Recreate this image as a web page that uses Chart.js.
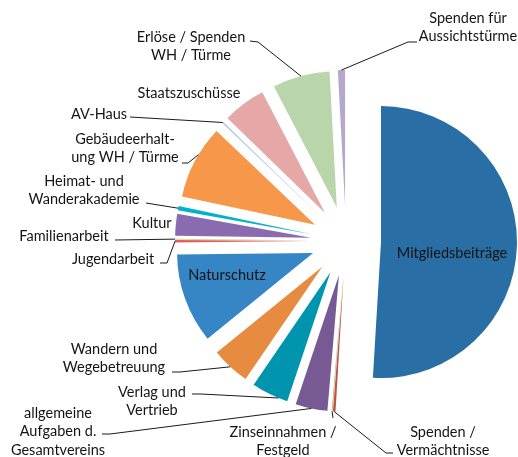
<!DOCTYPE html>
<html>
<head>
<meta charset="utf-8">
<script src="https://cdn.jsdelivr.net/npm/chart.js@4"></script>
<style>
  html, body { margin: 0; padding: 0; background: #fff; }
  #wrap { width: 518px; height: 457px; }
</style>
</head>
<body>
<div id="wrap"><canvas id="chart" width="518" height="457"></canvas></div>
<script>
// Income breakdown (share in %)
const categories = [
    'Mitgliedsbeiträge',
    'Spenden / Vermächtnisse',
    'Zinseinnahmen / Festgeld',
    'allgemeine Aufgaben d. Gesamtvereins',
    'Verlag und Vertrieb',
    'Wandern und Wegebetreuung',
    'Naturschutz',
    'Jugendarbeit',
    'Familienarbeit',
    'Kultur',
    'Heimat- und Wanderakademie',
    'Gebäudeerhaltung WH / Türme',
    'AV-Haus',
    'Staatszuschüsse',
    'Erlöse / Spenden WH / Türme',
    'Spenden für Aussichtstürme'
];
const shares = [51.0, 0.3, 0.1, 3.8, 4.4, 4.6, 10.7, 0.3, 0.1, 2.6, 0.5, 8.8, 0.15, 5.1, 6.8, 0.85];

// Office-style palette, one per slice
const sliceColors = [
    '#2a6ea6', '#c0504d', '#9bbb59', '#775a93', '#0094ae', '#e68b3f',
    '#3686c6', '#e0605c', '#a9cc7a', '#8a6bb0', '#00b1cf', '#f7974a',
    '#9dc3e6', '#e6a8a7', '#b9d5aa', '#b6a8cc'
];

const FONT = "14.5px 'Lato', 'Open Sans', sans-serif";
const TEXT_COLOR = '#141414';
const LINE_H = 18.5;
const EXPLODE = 35;   // px every slice is pushed out from the centre

// label layout: wrapped lines, centre of first line, optional leader (stub start -> stub end -> slice)
const labelLayout = [
    { lines: ['Mitgliedsbeiträge'], x: 452, y: 253 },
    { lines: ['Spenden /', 'Vermächtnisse'], x: 443, y: 432, leader: [393, 453, 386, 453] },
    { lines: ['Zinseinnahmen /', 'Festgeld'], x: 283, y: 432, leader: [333, 418, 333, 418] },
    { lines: ['allgemeine', 'Aufgaben d.', 'Gesamtvereins'], x: 58, y: 413, leader: [102, 434, 110, 434] },
    { lines: ['Verlag und', 'Vertrieb'], x: 152, y: 392, leader: [192, 394, 201, 394], at: 0.25 },
    { lines: ['Wandern und', 'Wegebetreuung'], x: 114, y: 349, leader: [172, 372, 180, 372] },
    { lines: ['Naturschutz'], x: 227, y: 275 },
    { lines: ['Jugendarbeit'], x: 113, y: 259, leader: [160, 263, 167, 263] },
    { lines: ['Familienarbeit'], x: 64, y: 236, leader: [115, 240, 115, 240] },
    { lines: ['Kultur'], x: 152, y: 223 },
    { lines: ['Heimat- und', 'Wanderakademie'], x: 84, y: 181, leader: [146, 203, 146, 203] },
    { lines: ['Gebäudeerhalt-', 'ung WH / Türme'], x: 125, y: 139, leader: [182, 163, 188, 163], at: 0.6 },
    { lines: ['AV-Haus'], x: 99, y: 114, leader: [130, 117, 130, 117] },
    { lines: ['Staatszuschüsse'], x: 189, y: 93 },
    { lines: ['Erlöse / Spenden', 'WH / Türme'], x: 191, y: 37, leader: [250, 41, 258, 42] },
    { lines: ['Spenden für', 'Aussichtstürme'], x: 468, y: 18, leader: [417, 42, 408, 42] }
];

// push each arc outward along its bisector (exploded pie)
const explodePlugin = {
    id: 'explode',
    afterDatasetsUpdate(chart) {
        chart.getDatasetMeta(0).data.forEach(arc => {
            const mid = (arc.startAngle + arc.endAngle) / 2;
            arc.x += Math.cos(mid) * EXPLODE;
            arc.y += Math.sin(mid) * EXPLODE;
        });
    }
};

// category labels with leader lines to the outer edge of the slice
const labelPlugin = {
    id: 'sliceLabels',
    afterDraw(chart) {
        const ctx = chart.ctx;
        const arcs = chart.getDatasetMeta(0).data;
        ctx.save();
        ctx.font = FONT;
        ctx.fillStyle = TEXT_COLOR;
        ctx.strokeStyle = '#1a1a1a';
        ctx.lineWidth = 1;
        ctx.textAlign = 'center';
        ctx.textBaseline = 'middle';
        labelLayout.forEach((lab, i) => {
            lab.lines.forEach((t, k) => ctx.fillText(t, lab.x, lab.y + k * LINE_H));
            if (!lab.leader) return;
            const arc = arcs[i];
            const a = arc.startAngle + (arc.endAngle - arc.startAngle) * (lab.at ?? 0.5);
            const ex = arc.x + Math.cos(a) * arc.outerRadius;
            const ey = arc.y + Math.sin(a) * arc.outerRadius;
            ctx.beginPath();
            ctx.moveTo(lab.leader[0], lab.leader[1]);
            ctx.lineTo(lab.leader[2], lab.leader[3]);
            ctx.lineTo(ex, ey);
            ctx.stroke();
        });
        ctx.restore();
    }
};

new Chart(document.getElementById('chart'), {
    type: 'pie',
    data: {
        labels: categories,
        datasets: [{
            data: shares,
            backgroundColor: sliceColors,
            borderWidth: 0,
            clip: false
        }]
    },
    options: {
        responsive: false,
        animation: false,
        events: [],
        radius: 136,
        layout: { padding: { left: 180, right: 6, top: 30, bottom: 5 } },
        plugins: {
            legend: { display: false },
            tooltip: { enabled: false }
        }
    },
    plugins: [explodePlugin, labelPlugin]
});
</script>
</body>
</html>
